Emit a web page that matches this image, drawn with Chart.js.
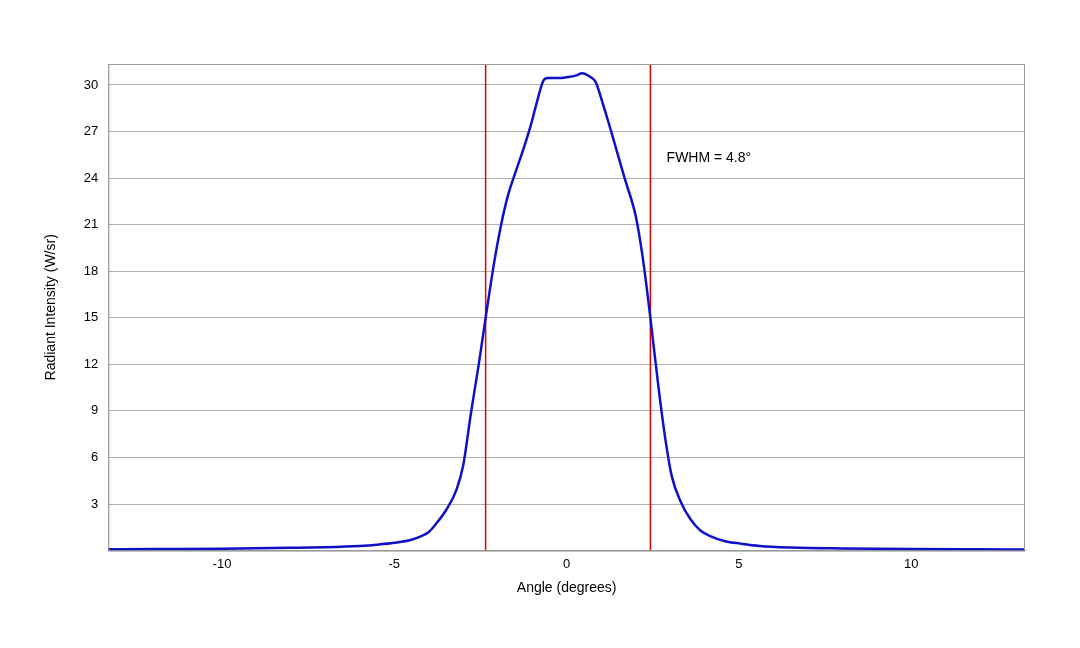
<!DOCTYPE html>
<html><head><meta charset="utf-8">
<script src="https://cdn.jsdelivr.net/npm/chart.js@4"></script>
<style>html,body{margin:0;background:#fff}#w{width:1080px;height:648px}</style>
</head><body><div id="w"><canvas id="c"></canvas></div>
<script>
const angles = [-13.3,-12,-10,-8,-7,-6,-5.5,-5,-4.5,-4.2,-4,-3.8,-3.5,-3.2,-3,-2.78,-2.55,-2.35,-2.1,-1.9,-1.7,-1.48,-1.25,-1.04,-0.85,-0.67,-0.55,-0.4,-0.2,0,0.26,0.45,0.55,0.7,0.84,1.05,1.28,1.5,1.71,2.0,2.2,2.43,2.65,2.87,3.05,3.3,3.6,3.88,4.2,4.6,5.04,5.6,6.5,8,10,12,13.3];
const intensity = [0.08,0.1,0.12,0.18,0.22,0.3,0.38,0.5,0.7,0.95,1.2,1.7,2.6,3.9,5.5,8.8,12,15,18.6,21.0,22.9,24.4,25.9,27.4,29,30.3,30.45,30.45,30.45,30.5,30.6,30.75,30.7,30.5,30.2,28.8,27.1,25.4,23.8,21.6,19,15,10.8,7.1,4.8,3.2,2.0,1.3,0.9,0.6,0.45,0.3,0.2,0.14,0.1,0.08,0.07];
const fwhmLeft = -2.35, fwhmRight = 2.43;
const xTicks = [-10,-5,0,5,10];
const yTicks = [3,6,9,12,15,18,21,24,27,30];
const yMax = 31.35;
const label = 'FWHM = 4.8°';
const textPlugin = {id:'t',afterDatasetsDraw(ch){const c=ch.ctx,x=ch.scales.x,y=ch.scales.y,a=ch.chartArea;c.save();c.strokeStyle='#999';c.lineWidth=1;c.strokeRect(a.left+0.5,a.top+0.5,a.right-a.left-1,a.bottom-a.top);c.font='14px "Liberation Sans", Arial';c.fillStyle='#000';c.textBaseline='middle';c.fillText(label,x.getPixelForValue(2.9),y.getPixelForValue(25.3));c.restore();}};
new Chart(document.getElementById('c'),{
 type:'scatter',
 data:{datasets:[
  {data:angles.map((a,i)=>({x:a,y:intensity[i]})),showLine:true,borderColor:'#1010c8',borderWidth:2.5,pointRadius:0,cubicInterpolationMode:'monotone'},
  {data:[{x:fwhmLeft,y:0},{x:fwhmLeft,y:yMax}],showLine:true,borderColor:'#e00000',borderWidth:1.5,pointRadius:0},
  {data:[{x:fwhmRight,y:0},{x:fwhmRight,y:yMax}],showLine:true,borderColor:'#e00000',borderWidth:1.5,pointRadius:0}
 ]},
 plugins:[textPlugin],
 options:{responsive:true,maintainAspectRatio:false,animation:false,
  layout:{padding:{left:39,right:55,top:64,bottom:47}},
  plugins:{legend:{display:false},tooltip:{enabled:false}},
  scales:{
   x:{type:'linear',min:-13.3,max:13.3,afterBuildTicks(s){s.ticks=xTicks.map(v=>({value:v}));},
      grid:{display:false,drawTicks:false},border:{color:'#999'},
      ticks:{color:'#000',font:{size:13,family:'"Liberation Sans", Arial'},padding:6},
      title:{display:true,text:'Angle (degrees)',color:'#000',font:{size:14,family:'"Liberation Sans", Arial'},padding:{top:2}}},
   y:{min:0,max:yMax,afterBuildTicks(s){s.ticks=yTicks.map(v=>({value:v}));},
      grid:{color:'#b0b0b0',drawTicks:false},border:{color:'#999'},
      ticks:{color:'#000',font:{size:13,family:'"Liberation Sans", Arial'},padding:10},
      title:{display:true,text:'Radiant Intensity (W/sr)',color:'#000',font:{size:14,family:'"Liberation Sans", Arial'},padding:{bottom:14}}}
  }}
});
</script></body></html>
